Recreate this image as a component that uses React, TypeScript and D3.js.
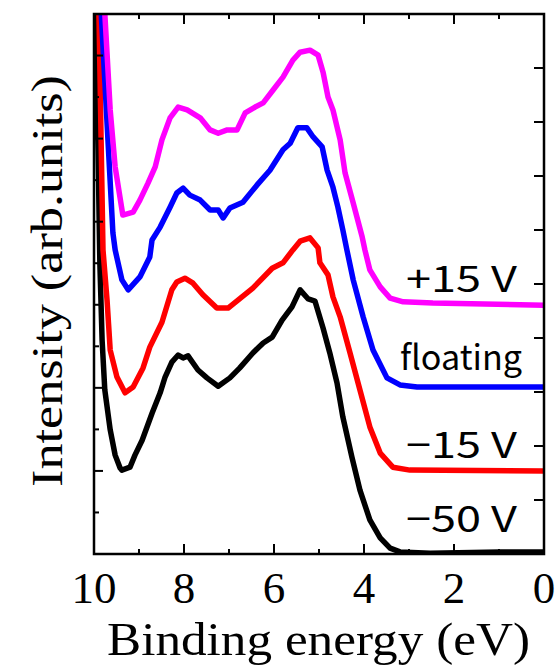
import React from "react";
import * as d3 from "d3";

// Binding energy (eV) / intensity (arb. units, offset included)
const blackE = [10.0, 9.91, 9.87, 9.82, 9.76, 9.64, 9.53, 9.42, 9.38, 9.2, 9.09, 8.93, 8.71, 8.53, 8.42, 8.27, 8.13, 8.02, 7.91, 7.69, 7.49, 7.24, 6.98, 6.76, 6.47, 6.24, 6.04, 5.82, 5.6, 5.42, 5.24, 5.09, 4.91, 4.76, 4.6, 4.47, 4.27, 4.09, 3.87, 3.64, 3.42, 3.2, 2.53, 0.98, 0.0];
const blackI = [14.1, 9.73, 7.01, 5.15, 3.95, 2.99, 2.38, 2.07, 2.02, 2.09, 2.38, 2.74, 3.39, 3.88, 4.26, 4.62, 4.79, 4.72, 4.77, 4.43, 4.24, 4.04, 4.24, 4.48, 4.84, 5.08, 5.22, 5.63, 5.95, 6.36, 6.14, 6.09, 5.44, 4.84, 4.12, 3.3, 2.34, 1.54, 0.82, 0.39, 0.14, 0.05, 0.02, 0.05, 0.05];

const redE = [10.0, 9.89, 9.8, 9.71, 9.64, 9.49, 9.31, 9.13, 8.91, 8.76, 8.49, 8.27, 8.16, 7.98, 7.8, 7.58, 7.27, 7.02, 6.8, 6.47, 6.04, 5.8, 5.58, 5.42, 5.2, 5.02, 4.98, 4.8, 4.69, 4.53, 4.31, 4.09, 3.87, 3.64, 3.36, 2.98, 0.0];
const redI = [16.0, 13.0, 7.32, 6.11, 4.91, 4.26, 3.88, 4.02, 4.48, 4.98, 5.58, 6.36, 6.55, 6.64, 6.52, 6.24, 5.92, 5.92, 6.11, 6.4, 6.88, 7.01, 7.32, 7.53, 7.61, 7.37, 7.01, 6.72, 6.19, 5.71, 4.84, 3.95, 3.06, 2.43, 2.09, 2.02, 2.0];

const blueE = [10.0, 9.84, 9.58, 9.53, 9.38, 9.24, 8.98, 8.76, 8.71, 8.53, 8.31, 8.16, 8.02, 7.87, 7.64, 7.42, 7.24, 7.13, 6.98, 6.69, 6.38, 6.09, 5.8, 5.64, 5.47, 5.27, 5.13, 4.93, 4.82, 4.69, 4.58, 4.47, 4.38, 4.24, 4.02, 3.8, 3.49, 3.2, 2.82, 0.0];
const blueI = [16.5, 13.02, 7.73, 7.32, 6.6, 6.36, 6.67, 7.15, 7.56, 7.87, 8.35, 8.69, 8.81, 8.64, 8.52, 8.28, 8.28, 8.09, 8.33, 8.47, 8.88, 9.24, 9.73, 9.89, 10.26, 10.26, 10.04, 9.8, 9.24, 8.83, 8.35, 7.8, 7.32, 6.6, 5.71, 4.91, 4.24, 4.07, 4.02, 4.02];

const magentaE = [10.0, 9.76, 9.64, 9.53, 9.36, 9.13, 8.98, 8.8, 8.64, 8.49, 8.31, 8.13, 7.93, 7.64, 7.42, 7.24, 7.04, 6.82, 6.64, 6.42, 6.24, 6.02, 5.8, 5.58, 5.42, 5.2, 5.02, 4.91, 4.8, 4.69, 4.53, 4.42, 4.24, 4.04, 3.98, 3.87, 3.64, 3.42, 3.13, 2.47, 0.0];
const magentaI = [17.5, 13.02, 10.69, 9.32, 8.16, 8.23, 8.52, 8.93, 9.32, 9.97, 10.5, 10.76, 10.69, 10.5, 10.21, 10.13, 10.21, 10.21, 10.62, 10.76, 10.86, 11.17, 11.48, 11.89, 12.08, 12.13, 12.01, 11.6, 11.0, 10.69, 9.97, 9.17, 8.45, 7.63, 7.32, 6.84, 6.43, 6.16, 6.07, 6.04, 5.99];

const seriesNames = ["−50 V", "−15 V", "floating", "+15 V"];
const seriesColors = ["#000000", "#ff0000", "#0000ff", "#ff00ff"];
const seriesE = [blackE, redE, blueE, magentaE];
const seriesI = [blackI, redI, blueI, magentaI];

const xTickLabels = [10, 8, 6, 4, 2, 0];
const xTicksAll = [10, 9, 8, 7, 6, 5, 4, 3, 2, 1, 0];
const yTicksLeft = d3.range(0, 14, 1);
const yTicksRight = d3.range(0, 11, 1);

export default function App() {
  const W = 557, H = 667;
  const x = d3.scaleLinear().domain([10, 0]).range([94, 544]);
  const y = d3.scaleLinear().domain([0, 13]).range([554, 14]);
  const yR = d3.scaleLinear().domain([0, 10]).range([554, 14]);
  const line = d3.line<[number, number]>().x((d) => x(d[0])).y((d) => y(d[1])).curve(d3.curveLinear);
  const serif = "Liberation Serif, Times New Roman, serif";
  const sans = "Noto Sans CJK JP, Noto Sans, sans-serif";

  return (
    <svg width={W} height={H} style={{ position: "absolute", left: 0, top: 0, background: "#fff" }}>
      <defs>
        <clipPath id="plot">
          <rect x={94} y={14} width={450} height={540} />
        </clipPath>
      </defs>
      <g clipPath="url(#plot)">
        {seriesE.map((es, k) => (
          <path
            key={k}
            d={line(es.map((e, i) => [e, seriesI[k][i]] as [number, number])) || ""}
            fill="none"
            stroke={seriesColors[k]}
            strokeWidth={5.5}
            strokeLinejoin="round"
            strokeLinecap="round"
          />
        ))}
      </g>
      <rect x={x(10)} y={y(13)} width={x(0) - x(10)} height={y(0) - y(13)} fill="none" stroke="#000" strokeWidth={2.5} />
      {xTicksAll.map((t) => {
        const len = t % 2 === 0 ? 10 : 5;
        return (
          <g key={t}>
            <line x1={x(t)} x2={x(t)} y1={y(0)} y2={y(0) - len} stroke="#000" strokeWidth={2} />
            <line x1={x(t)} x2={x(t)} y1={y(13)} y2={y(13) + len} stroke="#000" strokeWidth={2} />
          </g>
        );
      })}
      {yTicksLeft.map((t) => (
        <line key={t} x1={x(10)} x2={x(10) + (t % 2 === 0 ? 9 : 5)} y1={y(t)} y2={y(t)} stroke="#000" strokeWidth={2} />
      ))}
      {yTicksRight.map((t) => (
        <line key={t} x1={x(0)} x2={x(0) - 10} y1={yR(t)} y2={yR(t)} stroke="#000" strokeWidth={2} />
      ))}
      {xTickLabels.map((t) => (
        <text key={t} x={x(t)} y={603} textAnchor="middle" style={{ fontFamily: serif }} fontSize={45} fill="#000">
          {t}
        </text>
      ))}
      <text x={107} y={655} style={{ fontFamily: serif }} fontSize={47} textLength={423} lengthAdjust="spacingAndGlyphs" fill="#000">
        Binding energy (eV)
      </text>
      <text
        transform={`translate(62, 281) rotate(-90)`}
        x={0}
        y={0}
        textAnchor="middle"
        style={{ fontFamily: serif }}
        fontSize={44}
        textLength={412}
        lengthAdjust="spacingAndGlyphs"
        fill="#000"
      >
        Intensity (arb.units)
      </text>
      {seriesNames.map((n, k) => (
        <text
          key={n}
          x={k === 2 ? 400 : 406}
          y={[532, 458, 370, 292][k]}
          style={{ fontFamily: sans }}
          fontSize={k === 2 ? 34 : 36}
          textLength={k === 2 ? 122 : 111}
          lengthAdjust="spacingAndGlyphs"
          fill="#000"
        >
          {n}
        </text>
      ))}
    </svg>
  );
}
